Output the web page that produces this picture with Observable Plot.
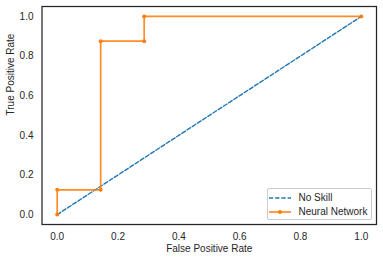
<!DOCTYPE html>
<html>
<head>
<meta charset="utf-8">
<script src="https://cdn.jsdelivr.net/npm/d3@7"></script>
<script src="https://cdn.jsdelivr.net/npm/@observablehq/plot@0.6"></script>
<style>
  body { margin: 0; background: #fff; }
  #wrap { position: relative; width: 383px; height: 260px; font-family: "Liberation Sans", Arial, sans-serif; }
  #legend { position: absolute; left: 266.5px; top: 188px; width: 103px; height: 30px;
    border: 1px solid #cccccc; border-radius: 2px; background: rgba(255,255,255,0.8);
    font-size: 10px; color: #262626; }
  .item { position: absolute; left: 0; height: 14px; display: flex; align-items: center; }
  .item svg { margin-left: 1px; }
  .item span { margin-left: 8px; }
</style>
</head>
<body>
<div id="wrap"></div>
<script>
const noSkillFpr = [0, 1];
const noSkillTpr = [0, 1];
const nnFpr = [0, 0, 0.143, 0.143, 0.286, 0.286, 1.0];
const nnTpr = [0, 0.125, 0.125, 0.875, 0.875, 1.0, 1.0];
const xTicks = [0, 0.2, 0.4, 0.6, 0.8, 1.0];
const yTicks = [0, 0.2, 0.4, 0.6, 0.8, 1.0];
const seriesNames = ["No Skill", "Neural Network"];
const xLabel = "False Positive Rate";
const yLabel = "True Positive Rate";

const blue = "#1f77b4", orange = "#ff7f0e";
const noSkill = noSkillFpr.map((x, i) => ({x, y: noSkillTpr[i]}));
const nn = nnFpr.map((x, i) => ({x, y: nnTpr[i]}));
const fmt = d3.format(".1f");

const chart = Plot.plot({
  width: 383, height: 260,
  marginLeft: 41.5, marginRight: 7, marginTop: 6, marginBottom: 36,
  style: {fontFamily: "'Liberation Sans', Arial, sans-serif", fontSize: "10px", color: "#262626", background: "#fff"},
  x: {domain: [-0.05, 1.05]},
  y: {domain: [-0.05, 1.05]},
  marks: [
    Plot.axisX({ticks: xTicks, tickSize: 0, tickPadding: 8, tickFormat: fmt, label: null, fill: "#262626"}),
    Plot.axisY({ticks: yTicks, tickSize: 0, tickPadding: 8.5, tickFormat: fmt, label: null, fill: "#262626"}),
    Plot.line(noSkill, {x: "x", y: "y", stroke: blue, strokeWidth: 1.4, strokeDasharray: "4.2,2"}),
    Plot.line(nn, {x: "x", y: "y", stroke: orange, strokeWidth: 1.7, strokeOpacity: 0.9}),
    Plot.dot(nn, {x: "x", y: "y", r: 2, fill: orange, stroke: null}),
    Plot.frame({stroke: "#262626", strokeWidth: 1.25}),
    Plot.text([xLabel], {frameAnchor: "bottom", dy: 24, text: d => d, fill: "#262626", lineAnchor: "middle"}),
    Plot.text([yLabel], {frameAnchor: "left", dx: -31.5, rotate: -90, text: d => d, fill: "#262626", lineAnchor: "middle"})
  ]
});
const wrap = document.getElementById("wrap");
wrap.appendChild(chart);

const legend = document.createElement("div");
legend.id = "legend";
const swatches = [
  `<svg width="22" height="6"><line x1="0" y1="3" x2="22" y2="3" stroke="${blue}" stroke-width="1.4" stroke-dasharray="4.2,2"/></svg>`,
  `<svg width="22" height="6"><line x1="0" y1="3" x2="22" y2="3" stroke="${orange}" stroke-width="1.7" stroke-opacity="0.9"/><circle cx="11" cy="3" r="2" fill="${orange}"/></svg>`
];
seriesNames.forEach((name, i) => {
  const it = document.createElement("div");
  it.className = "item";
  it.style.top = (1.5 + i * 14) + "px";
  it.innerHTML = swatches[i] + `<span>${name}</span>`;
  legend.appendChild(it);
});
wrap.appendChild(legend);
</script>
</body>
</html>
